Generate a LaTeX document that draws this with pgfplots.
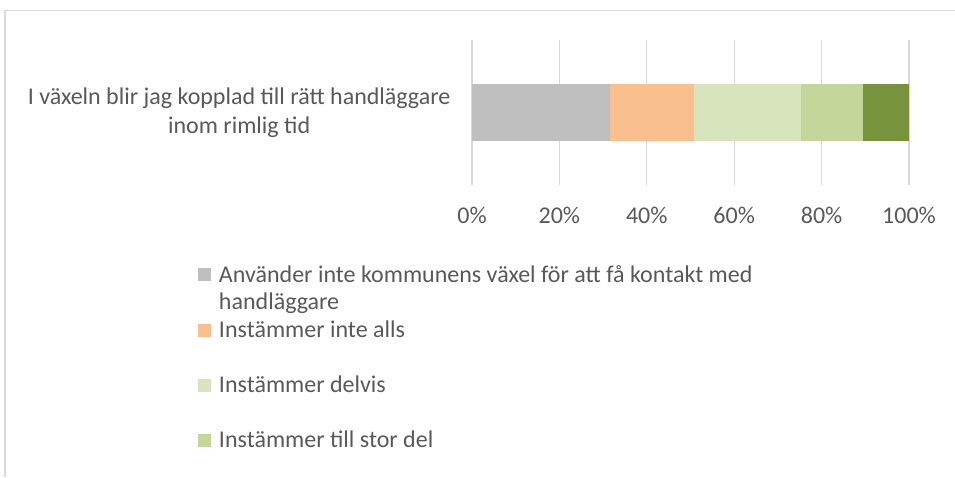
\documentclass[border=0pt]{standalone}
\usepackage{fontspec}
\setmainfont{Carlito}
\usepackage{pgfplots}
\pgfplotsset{compat=1.18}
\definecolor{txt}{HTML}{595959}
\definecolor{gridc}{HTML}{D9D9D9}
\definecolor{cA}{HTML}{BFBFBF}
\definecolor{cB}{HTML}{F9BF8F}
\definecolor{cC}{HTML}{D8E4BC}
\definecolor{cD}{HTML}{C4D79B}
\definecolor{cE}{HTML}{77933C}
\begin{document}
\begin{tikzpicture}[x=1pt,y=1pt]
\useasboundingbox (0,0) rectangle (955,-477);
\draw[gridc, line width=1.3pt] (5,-477) -- (5,-10.5) -- (955,-10.5);
\begin{axis}[
  at={(472pt,-185pt)}, anchor=south west,
  scale only axis, width=437pt, height=145pt,
  xbar stacked, bar width=57pt,
  xmin=0, xmax=100, ymin=-1, ymax=1,
  xtick={0,20,40,60,80,100},
  xticklabel={\pgfmathprintnumber{\tick}\%},
  /pgf/number format/assume math mode=true,
  ytick={0},
  yticklabels={{I växeln blir jag kopplad till rätt handläggare\\inom rimlig tid}},
  yticklabel style={align=center, xshift=-18pt, font=\fontsize{24}{29}\selectfont, text=txt},
  xticklabel style={yshift=-19pt, font=\fontsize{24}{29}\selectfont, text=txt},
  axis line style={draw=none},
  major tick style={draw=none},
  xmajorgrids, grid style={gridc, line width=1.3pt},
  legend style={at={(-0.627,-0.527)}, anchor=north west, draw=none, fill=none,
    inner sep=0pt, outer sep=0pt,
    font=\fontsize{24}{27}\selectfont, text=txt, row sep=33pt,
    nodes={inner sep=2pt}},
  legend cell align=left,
  legend image code/.code={\fill[#1] (0pt,-7pt) rectangle (13pt,6pt);},
]
\addplot[fill=cA, draw=none] coordinates {(31.6,0)};
\addlegendentry{\hspace{6pt}\raisebox{0pt}[\height][0pt]{\begin{tabular}[t]{@{}l@{}}Använder inte kommunens växel för att få kontakt med\\handläggare\end{tabular}}}
\addplot[fill=cB, draw=none] coordinates {(19.2,0)};
\addlegendentry{\hspace{6pt}Instämmer inte alls}
\addplot[fill=cC, draw=none] coordinates {(24.5,0)};
\addlegendentry{\hspace{6pt}Instämmer delvis}
\addplot[fill=cD, draw=none] coordinates {(14.2,0)};
\addlegendentry{\hspace{6pt}Instämmer till stor del}
\addplot[fill=cE, draw=none, forget plot] coordinates {(10.5,0)};
\end{axis}
\end{tikzpicture}
\end{document}
